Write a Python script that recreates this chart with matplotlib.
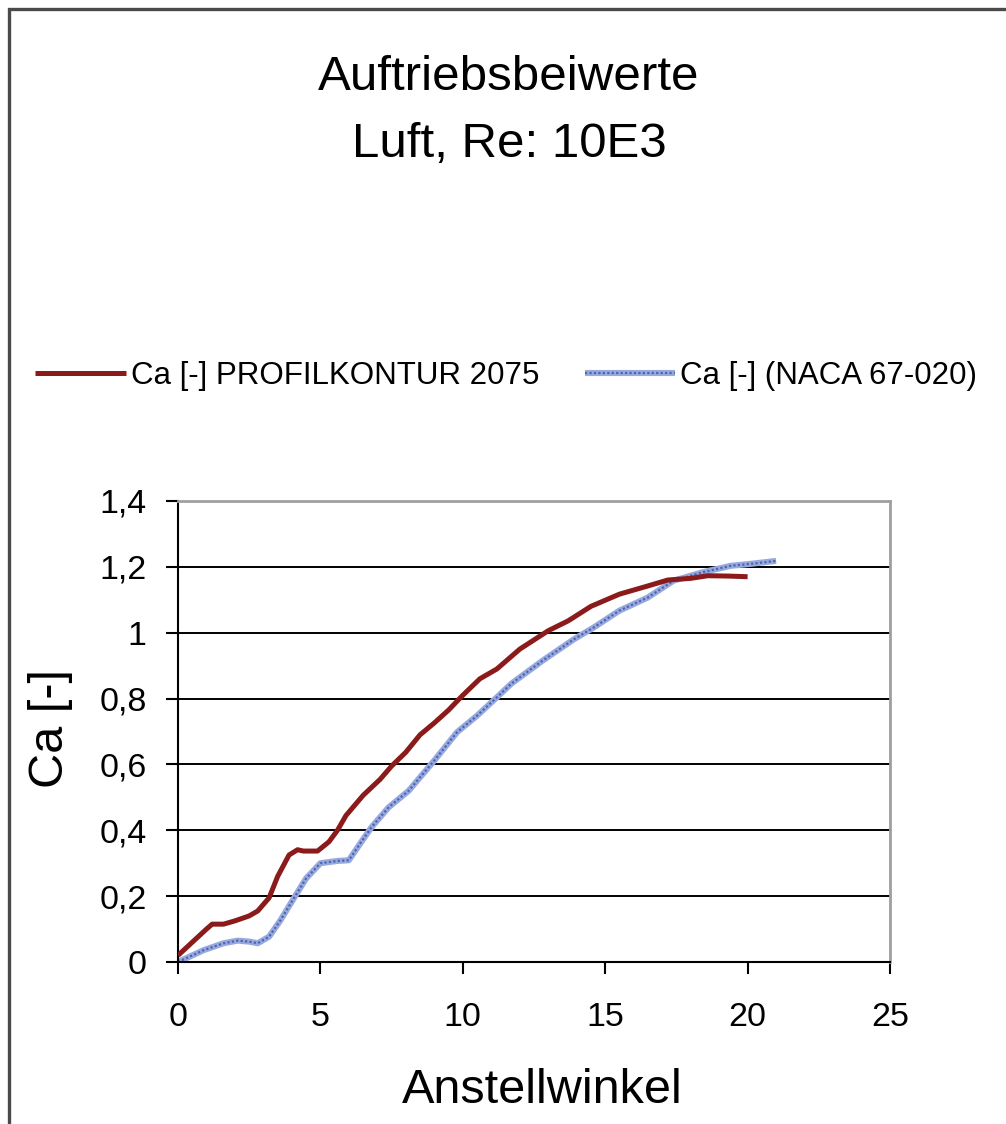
import matplotlib
matplotlib.use("Agg")
import matplotlib.pyplot as plt
from matplotlib.patches import Rectangle
from matplotlib.ticker import FuncFormatter, MultipleLocator

plt.rcParams["font.family"] = ["Liberation Sans", "DejaVu Sans"]

# Angle of attack [deg] and lift coefficient Ca [-]
alpha_2075 = [0, 0.5, 1.0, 1.2, 1.6, 2.0, 2.5, 2.8, 3.2, 3.5, 3.9, 4.2, 4.4, 4.9,
              5.3, 5.6, 5.9, 6.5, 7.1, 7.5, 8.0, 8.5, 9.0, 9.5, 10.0, 10.6, 11.2,
              12.0, 13.0, 13.7, 14.5, 15.5, 16.5, 17.2, 18.0, 18.6, 19.3, 20.0]
ca_2075 = [0.02, 0.06, 0.10, 0.115, 0.115, 0.125, 0.14, 0.155, 0.195, 0.26, 0.325,
           0.341, 0.337, 0.337, 0.365, 0.40, 0.445, 0.506, 0.555, 0.595, 0.637,
           0.69, 0.726, 0.765, 0.81, 0.86, 0.89, 0.95, 1.006, 1.036, 1.08, 1.117,
           1.142, 1.16, 1.165, 1.173, 1.172, 1.17]

alpha_naca = [0, 0.5, 0.9, 1.6, 2.1, 2.5, 2.8, 3.2, 3.6, 4.1, 4.5, 5.0, 5.6, 6.0,
              6.4, 6.8, 7.4, 8.1, 9.0, 9.8, 10.5, 11.2, 11.7, 12.8, 13.9, 14.6,
              15.5, 16.5, 17.4, 18.4, 19.4, 20.2, 21.0]
ca_naca = [0.0, 0.02, 0.036, 0.057, 0.065, 0.062, 0.057, 0.077, 0.127, 0.198, 0.254,
           0.30, 0.307, 0.309, 0.36, 0.41, 0.47, 0.52, 0.612, 0.698, 0.748, 0.804,
           0.845, 0.915, 0.98, 1.016, 1.067, 1.107, 1.158, 1.183, 1.203, 1.21, 1.218]

label_2075 = "Ca [-] PROFILKONTUR 2075"
label_naca = "Ca [-] (NACA 67-020)"
x_ticks = [0, 5, 10, 15, 20, 25]

fig = plt.figure(figsize=(10.06, 11.24), dpi=100)
fig.patch.set_facecolor("white")

# outer chart frame (left and top edges visible)
fig.patches.append(Rectangle((0.0085, -0.05), 1.2, 1.05 - 0.0085 * 1006 / 1124,
                             transform=fig.transFigure, fill=False,
                             edgecolor="#4a4a4a", linewidth=2.4, zorder=0))

ax = fig.add_axes([0.1769, 0.1441, 0.7078, 0.4102])

for y in [0.2, 0.4, 0.6, 0.8, 1.0, 1.2]:
    ax.axhline(y, color="black", linewidth=1.4, zorder=1)

red, = ax.plot(alpha_2075, ca_2075, color="#8B1A1A", linewidth=3.6,
               solid_capstyle="butt", zorder=3)
blue_base, = ax.plot(alpha_naca, ca_naca, color="#98A9DE", linewidth=4.4,
                     solid_capstyle="butt", zorder=2)
blue_dots, = ax.plot(alpha_naca, ca_naca, color="#4C64B4", linewidth=1.6,
                     linestyle=(0, (1, 1)), zorder=2)

ax.set_xlim(0, 25)
ax.set_ylim(0, 1.4)
ax.set_xticks(x_ticks)
ax.yaxis.set_major_locator(MultipleLocator(0.2))
ax.yaxis.set_major_formatter(
    FuncFormatter(lambda v, p: ("%g" % round(v, 1)).replace(".", ",")))

for side in ("left", "bottom"):
    ax.spines[side].set_color("black")
    ax.spines[side].set_linewidth(1.5)
for side in ("top", "right"):
    ax.spines[side].set_color("#A0A0A0")
    ax.spines[side].set_linewidth(2.0)

ax.tick_params(axis="both", direction="out", length=8.6, width=1.5,
               labelsize=24.5, colors="black")
ax.tick_params(axis="y", pad=14)
ax.tick_params(axis="x", pad=20)

fig.text(0.506, 0.9199, "Auftriebsbeiwerte", ha="center", va="baseline",
         fontsize=35.5)
fig.text(0.506, 0.8603, "Luft, Re: 10E3", ha="center", va="baseline",
         fontsize=35.5)
fig.text(0.539, 0.0187, "Anstellwinkel", ha="center", va="baseline",
         fontsize=35)
fig.text(0.05, 0.352, "Ca [-]", ha="center", va="center", rotation=90,
         fontsize=35)

ax.legend([red, (blue_base, blue_dots)], [label_2075, label_naca],
          loc="center left", bbox_to_anchor=(0.035, 0.6655),
          bbox_transform=fig.transFigure, ncol=2, frameon=False,
          fontsize=22.5, handlelength=2.9, handletextpad=0.16,
          columnspacing=1.45, borderpad=0, borderaxespad=0)

fig.savefig("out.png", dpi=100, facecolor="white")
